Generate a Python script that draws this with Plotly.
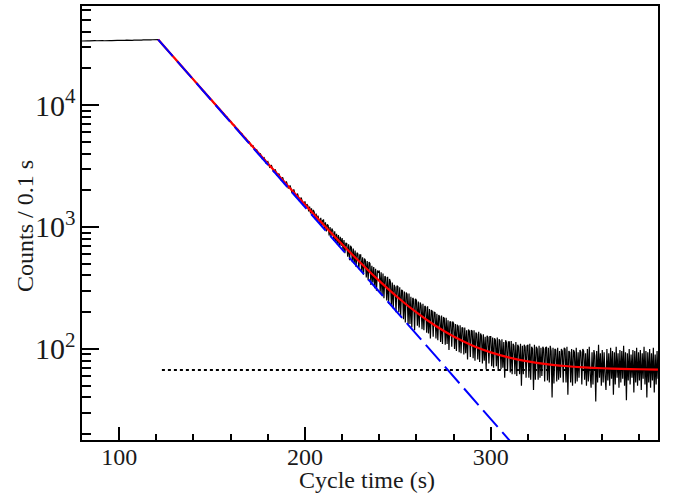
import numpy as np
import plotly.graph_objects as go

# ---------------- data ----------------
# flat part, t = 80 .. 120 s, 1 s sampling
flat_t0, flat_step = 80.0, 1.0
flat_counts = [33500, 33700, 33550, 33650, 33600, 33750, 33600, 33700, 33650, 33800,
               33700, 33750, 33650, 33850, 33750, 33800, 33700, 33900, 33800, 33850,
               33900, 33800, 33950, 33900, 34000, 33900, 34050, 33950, 34100, 34000,
               34050, 34150, 34050, 34200, 34100, 34150, 34250, 34150, 34300, 34250,
               34350]

# decay part, t = 121 .. 199 s, 1 s sampling
decay_t0, decay_step = 121.0, 1.0
decay_counts = [34400, 33200, 31700, 30650, 29300, 28350, 27050, 26150, 24950, 24150,
                23050, 22300, 21250, 20600, 19650, 19050, 18100, 17580, 16720, 16240,
                15430, 15010, 14250, 13860, 13150, 12810, 12140, 11830, 11200, 10950,
                10330, 10110, 9540, 9340, 8810, 8640, 8130, 7980, 7500, 7380,
                6930, 6820, 6400, 6310, 5910, 5830, 5450, 5400, 5030, 5000,
                4630, 4640, 4270, 4300, 3940, 3990, 3630, 3700, 3350, 3440,
                3090, 3190, 2850, 2960, 2630, 2740, 2420, 2550, 2240, 2360,
                2070, 2190, 1900, 2030, 1760, 1880, 1630, 1740, 1510]

# noisy tail, t = 200 .. 390 s, 0.5 s sampling
tail_t0, tail_step = 200.0, 0.5
tail_counts = [
    1620, 1430, 1540, 1500, 1340, 1470, 1290, 1420, 1240, 1380, 1320, 1160, 1290, 1120, 1240, 1090, 1060, 1190, 1010, 1130,
    1140, 960, 1090, 920, 1050, 1030, 850, 1000, 830, 970, 930, 770, 920, 745, 880, 715, 860, 690, 830, 700,
    810, 640, 780, 610, 740, 730, 570, 720, 535, 700, 680, 515, 665, 500, 640, 470, 615, 600, 450, 590,
    590, 430, 565, 405, 550, 535, 385, 525, 365, 515, 500, 335, 480, 350, 470, 315, 455, 300, 440, 420,
    440, 295, 425, 275, 415, 260, 395, 385, 250, 390, 235, 375, 355, 225, 350, 215, 335, 320, 200, 330,
    325, 200, 320, 185, 305, 300, 175, 295, 165, 290, 280, 158, 285, 160, 268, 150, 262, 255, 142, 258,
    250, 155, 245, 150, 240, 228, 145, 235, 142, 225, 220, 136, 224, 134, 212, 122, 208, 204, 126, 200,
    198, 122, 194, 118, 190, 184, 114, 188, 110, 182, 178, 108, 180, 110, 172, 98, 168, 166, 104, 168,
    162, 100, 160, 96, 158, 152, 94, 156, 92, 150, 148, 90, 150, 92, 142, 82, 144, 140, 86, 142,
    140, 84, 142, 80, 136, 132, 82, 138, 78, 134, 128, 76, 132, 80, 126, 68, 128, 124, 76, 126,
    126, 72, 124, 70, 122, 118, 72, 124, 66, 120, 116, 68, 120, 70, 114, 58, 118, 112, 66, 114,
    114, 64, 116, 62, 110, 106, 62, 114, 60, 108, 104, 62, 110, 50, 106, 62, 108, 104, 58, 106,
    108, 58, 110, 56, 104, 100, 46, 108, 56, 104, 100, 56, 106, 58, 102, 60, 104, 100, 54, 102,
    104, 55, 102, 53, 106, 96, 40, 102, 52, 100, 98, 54, 102, 56, 96, 58, 100, 96, 53, 102,
    100, 53, 104, 42, 96, 94, 53, 100, 50, 98, 94, 52, 102, 54, 94, 58, 98, 94, 51, 100,
    96, 56, 92, 50, 100, 54, 104, 62, 48, 94, 51, 98, 88, 37, 96, 53, 108, 58, 92, 50,
    98, 53, 94, 60, 46, 100, 55, 92, 50, 102, 57, 96, 42, 94, 51, 104, 58, 92, 48, 98,
    53, 96, 57, 106, 50, 94, 38, 92, 55, 100, 51, 90, 58, 98, 44, 96, 53, 102, 50, 94,
    55, 98, 46, 92, 57, 104, 51, 96, 40, 94, 53, 100, 48, 92, 55, 102, 44, 90, 51, 96, 57]

# fit (exponential + constant), sampled from the red curve
fit_t = [121, 125, 130, 140, 150, 160, 170, 180, 190, 200, 210, 220, 230, 240, 250,
         260, 270, 280, 290, 300, 310, 320, 330, 340, 350, 360, 370, 380, 390]
fit_counts = [34467, 29380, 24065, 16152, 10848, 7293, 4910, 3313, 2243, 1525, 1044, 722,
              506, 361, 264, 199, 155.5, 126.3, 106.8, 93.6, 84.9, 79, 75, 72.4, 70.6,
              69.4, 68.6, 68.1, 67.7]

# pure exponential component (blue dashed) end points
expo_t = [121, 315]
expo_counts = [34400, 14.6]

# constant background (dotted)
bkg_t = [123, 390]
bkg_counts = [67, 67]

# ---------------- build figure ----------------
flat_t = flat_t0 + flat_step * np.arange(len(flat_counts))
decay_t = decay_t0 + decay_step * np.arange(len(decay_counts))
tail_t = tail_t0 + tail_step * np.arange(len(tail_counts))
data_t = np.concatenate([flat_t, decay_t, tail_t])
data_y = np.concatenate([flat_counts, decay_counts, tail_counts])

fig = go.Figure()
fig.add_trace(go.Scatter(x=bkg_t, y=bkg_counts, mode="lines",
                         line=dict(color="black", width=2, dash="3px,3px"), hoverinfo="skip"))
fig.add_trace(go.Scatter(x=data_t, y=data_y, mode="lines",
                         line=dict(color="black", width=1.2), hoverinfo="skip"))
fig.add_trace(go.Scatter(x=fit_t, y=fit_counts, mode="lines",
                         line=dict(color="#ff0000", width=2.2, shape="spline", smoothing=0.8),
                         hoverinfo="skip"))
fig.add_trace(go.Scatter(x=expo_t, y=expo_counts, mode="lines",
                         line=dict(color="#0000ff", width=2, dash="22px,7px"), hoverinfo="skip"))

font_family = "Liberation Serif"
fig.update_layout(
    width=675, height=497,
    margin=dict(l=82, r=17, t=4, b=57),
    plot_bgcolor="white", paper_bgcolor="white",
    showlegend=False,
    font=dict(family=font_family, size=24, color="#1a1a1a"),
)
fig.update_xaxes(
    range=[80, 390], showgrid=False, zeroline=False,
    showline=True, mirror=True, linecolor="black", linewidth=1.5,
    ticks="inside", ticklen=13, tickwidth=1.5, tickcolor="black",
    dtick=100, tick0=0, ticklabelstandoff=-6,
    minor=dict(ticks="inside", ticklen=6, tickwidth=1.5, tickcolor="black", dtick=20, showgrid=False),
    tickfont=dict(size=24, family=font_family),
)
fig.update_yaxes(
    type="log", range=[1.253, 4.812], showgrid=False, zeroline=False,
    showline=True, mirror=True, linecolor="black", linewidth=1.5,
    ticks="inside", ticklen=17, tickwidth=1.5, tickcolor="black",
    dtick=1, exponentformat="power",
    minor=dict(ticks="inside", ticklen=9, tickwidth=1.5, tickcolor="black", dtick="D1", showgrid=False),
    tickfont=dict(size=24, family=font_family),
)
fig.add_annotation(text="Cycle time (s)", xref="paper", yref="paper", x=0.495, y=0,
                   yshift=-40, xanchor="center", yanchor="middle", showarrow=False,
                   font=dict(size=24, family=font_family))
fig.add_annotation(text="Counts / 0.1 s", xref="paper", yref="paper", x=0, y=0.493,
                   xshift=-57, xanchor="center", yanchor="middle", textangle=-90,
                   showarrow=False, font=dict(size=24, family=font_family))

fig.write_html("out.html", config={"displayModeBar": False},
               post_script="document.body.style.margin='0';document.body.style.padding='0';")
